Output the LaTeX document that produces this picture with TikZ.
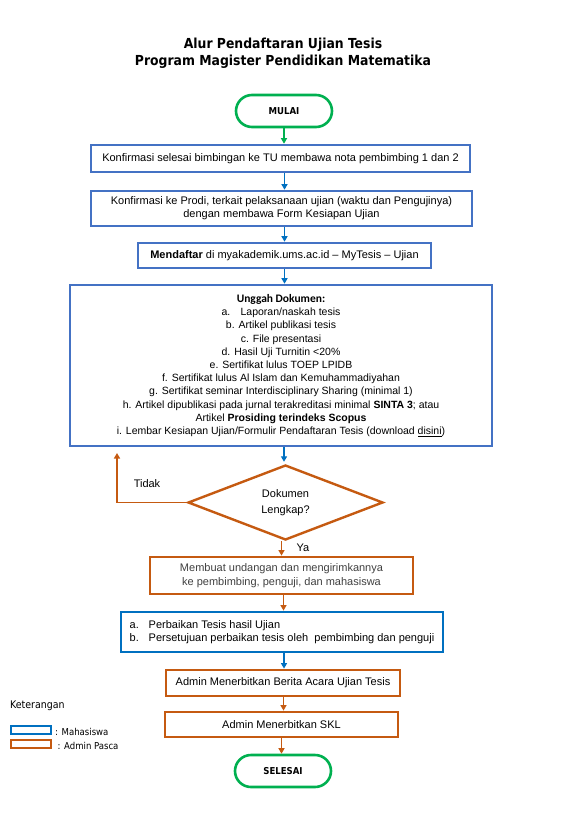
\documentclass[tikz,border=0pt]{standalone}
\usepackage{fontspec}
\setmainfont{Liberation Sans}
\newfontfamily\tahoma{DejaVu Sans Condensed}
\newfontfamily\calib{Carlito}
\usetikzlibrary{arrows.meta,shapes.geometric}
\definecolor{boxblue}{RGB}{68,114,196}
\definecolor{mblue}{RGB}{0,112,192}
\definecolor{aorange}{RGB}{197,90,17}
\definecolor{sgreen}{RGB}{0,176,80}
\definecolor{txtgray}{RGB}{64,64,64}
\begin{document}
\begin{tikzpicture}[x=1pt,y=-1pt,
  bbox/.style={draw=boxblue,line width=2.6pt,minimum width=#1,inner sep=2pt,align=center,font=\fontsize{11}{13.2}\selectfont},
  mbox/.style={draw=mblue,line width=2.8pt,minimum width=#1,inner sep=2pt,align=left,font=\fontsize{11}{13.2}\selectfont},
  obox/.style={draw=aorange,line width=2.8pt,minimum width=#1,inner sep=2pt,align=center,font=\fontsize{11}{13.5}\selectfont},
  term/.style={draw=sgreen,line width=2.6pt,rounded corners=16pt,minimum width=96pt,minimum height=32pt,font=\tahoma\bfseries\fontsize{9.5}{11}\selectfont},
  barrow/.style={draw=mblue,line width=1.8pt,-{Triangle[length=5.5pt,width=6pt]}},
  oarrow/.style={draw=aorange,line width=1.8pt,-{Triangle[length=5.5pt,width=6pt]}},
  garrow/.style={draw=sgreen,line width=1.8pt,-{Triangle[length=5.5pt,width=6pt]}},
  lbl/.style={font=\fontsize{11}{13}\selectfont}
]
\useasboundingbox (0,0) rectangle (569,821);
\node[font=\tahoma\bfseries\fontsize{13.8}{17}\selectfont,align=center] (title) at (283,53.5) {Alur Pendaftaran Ujian Tesis\\Program Magister Pendidikan Matematika};

\node[term] (mulai) at (284,111) {MULAI};
\node[bbox=379pt,minimum height=27pt] (b1) at (280.5,158.5) {Konfirmasi selesai bimbingan ke TU membawa nota pembimbing 1 dan 2};
\node[bbox=381pt,minimum height=35pt] (b2) at (281.5,208.5) {Konfirmasi ke Prodi, terkait pelaksanaan ujian (waktu dan Pengujinya)\\dengan membawa Form Kesiapan Ujian};
\node[bbox=293pt,minimum height=25pt] (b3) at (284.5,255.5) {\textbf{Mendaftar} di myakademik.ums.ac.id -- MyTesis -- Ujian};
\node[bbox=422pt,minimum height=161pt,font=\fontsize{10.5}{13.2}\selectfont] (b4) at (281,365.5) {{\calib\bfseries\fontsize{11.5}{13.2}\selectfont Unggah Dokumen:}\\
\makebox[19pt][l]{a.}Laporan/naskah tesis\\
b. Artikel publikasi tesis\\
c. File presentasi\\
d. Hasil Uji Turnitin {<}20\%\\
e. Sertifikat lulus TOEP LPIDB\\
f. Sertifikat lulus Al Islam dan Kemuhammadiyahan\\
g. Sertifikat seminar Interdisciplinary Sharing (minimal 1)\\
h. Artikel dipublikasi pada jurnal terakreditasi minimal \textbf{SINTA 3}; atau\\
Artikel \textbf{Prosiding terindeks Scopus}\\
i. Lembar Kesiapan Ujian/Formulir Pendaftaran Tesis (download \underline{disini})};
\node[diamond,draw=aorange,line width=2.4pt,minimum width=195pt,minimum height=75pt,inner sep=0pt,align=center,font=\fontsize{11}{16}\selectfont] (d) at (285.5,502.5) {Dokumen\\Lengkap?};
\node[obox=263pt,minimum height=37pt,text=txtgray] (b5) at (281.5,575.5) {Membuat undangan dan mengirimkannya\\ke pembimbing, penguji, dan mahasiswa};
\node[mbox=322pt,minimum height=40pt,inner sep=2pt] (b6) at (282,632) {\makebox[19pt][l]{a.}Perbaikan Tesis hasil Ujian\\\makebox[19pt][l]{b.}Persetujuan perbaikan tesis oleh\ \ pembimbing dan penguji};
\node[obox=234pt,minimum height=26pt] (b7) at (283,683) {Admin Menerbitkan Berita Acara Ujian Tesis};
\node[obox=233pt,minimum height=25pt] (b8) at (281.5,724.5) {Admin Menerbitkan SKL};
\node[term] (selesai) at (283,771) {SELESAI};

% connectors
\draw[garrow] (mulai.south) -- (mulai.south |- b1.north);
\draw[barrow] ([xshift=4pt]b1.south) -- ([xshift=4pt]b1.south |- b2.north);
\draw[barrow] ([xshift=3pt]b2.south) -- ([xshift=3pt]b2.south |- b3.north);
\draw[barrow] (b3.south) -- (b3.south |- b4.north);
\draw[barrow,shorten >=2pt] ([xshift=3pt]b4.south) -- ([xshift=3pt]b4.south |- d.north);
\coordinate (tidakc) at (117,453);
\draw[oarrow] (d.west) -| (tidakc);
\node[lbl] (tidak) at (147,484) {Tidak};
\draw[oarrow] (d.south -| b5.north) -- (b5.north);
\node[lbl] (ya) at (303,548) {Ya};
\draw[oarrow] ([xshift=2pt]b5.south) -- ([xshift=2pt]b5.south |- b6.north);
\draw[barrow] ([xshift=2pt]b6.south) -- ([xshift=2pt]b6.south |- b7.north);
\draw[oarrow] ([xshift=0.5pt]b7.south) -- ([xshift=0.5pt]b7.south |- b8.north);
\draw[oarrow] (b8.south) -- (b8.south |- selesai.north);

% legend
\node[anchor=west,font=\tahoma\fontsize{10.5}{12}\selectfont,inner sep=0pt] (ket) at (10,706) {Keterangan};
\node[draw=mblue,line width=2pt,minimum width=40pt,minimum height=8pt,inner sep=0pt] (lm) at (31,730) {};
\node[draw=aorange,line width=2pt,minimum width=40pt,minimum height=8pt,inner sep=0pt] (lo) at (31,744) {};
\node[anchor=west,font=\tahoma\fontsize{9.5}{11}\selectfont,inner sep=0pt] (lmt) at (55,731.5) {: Mahasiswa};
\node[anchor=west,font=\tahoma\fontsize{9.5}{11}\selectfont,inner sep=0pt] (lot) at (57.5,745.5) {: Admin Pasca};
\end{tikzpicture}
\end{document}
